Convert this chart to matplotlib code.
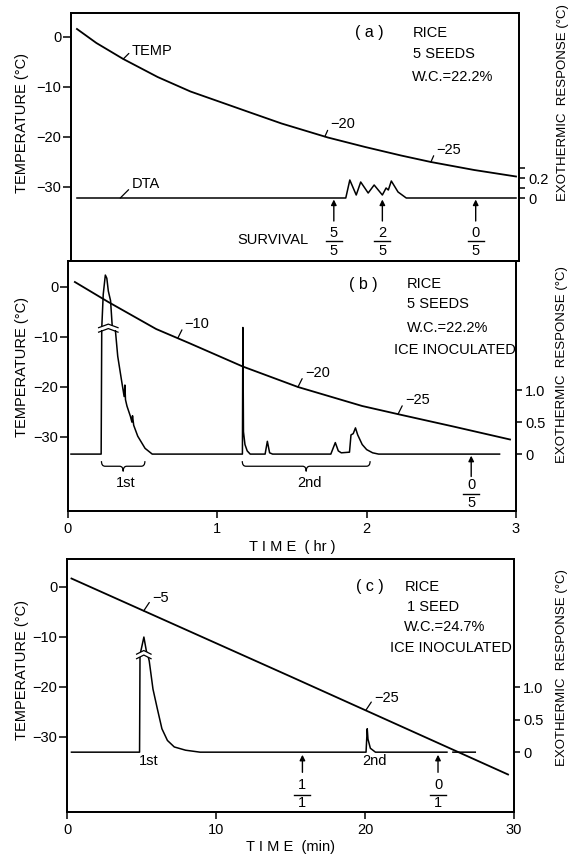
import numpy as np
import matplotlib
matplotlib.use('Agg')
import matplotlib.pyplot as plt
from matplotlib.path import Path
from matplotlib.patches import PathPatch

plt.rcParams['font.family'] = ['Liberation Sans', 'DejaVu Sans']
plt.rcParams['font.size'] = 10.5
plt.rcParams['axes.linewidth'] = 1.3

# ---- (a) rice, 5 seeds, W.C. 22.2 %  (time in hr) ----
a_time = [0.04, 0.17, 0.35, 0.58, 0.80, 1.00, 1.19, 1.41, 1.72, 1.97, 2.21, 2.41, 2.70, 2.98]
a_temp = [1.6, -1.2, -4.4, -8.0, -10.9, -13.0, -15.0, -17.3, -20.1, -22.0, -23.7, -25.0, -26.6, -27.9]
a_dta_time = [0.04, 1.84, 1.867, 1.91, 1.94, 1.99, 2.03, 2.085, 2.11, 2.125, 2.145, 2.19, 2.245, 2.98]
a_dta = [0, 0, 0.18, 0.03, 0.16, 0.05, 0.13, 0.03, 0.10, 0.08, 0.17, 0.06, 0, 0]
a_surv_time = [1.76, 2.085, 2.71]
a_surv_alive = [5, 2, 0]
a_surv_total = [5, 5, 5]
a_mark_temp = [-20, -25]
a_mark_time = [1.70, 2.41]

# ---- (b) rice, 5 seeds, ice inoculated (time in hr) ----
b_time = [0.046, 0.27, 0.59, 0.81, 1.17, 1.54, 1.97, 2.22, 2.58, 2.96]
b_temp = [1.0, -3.0, -8.4, -11.2, -15.9, -20.0, -23.8, -25.5, -27.9, -30.5]
b_dta_time = [0.02, 0.222, 0.226, 0.236, 0.25, 0.26, 0.27, 0.285, 0.297, 0.316, 0.333,
              0.358, 0.376, 0.381, 0.385, 0.395, 0.418, 0.428, 0.432, 0.44, 0.467, 0.516,
              0.564, 1.168, 1.171, 1.175, 1.185, 1.2, 1.22, 1.32, 1.335, 1.35, 1.37, 1.76,
              1.79, 1.81, 1.83, 1.885, 1.895, 1.91, 1.925, 1.94, 1.97, 2.0, 2.04, 2.08, 2.89]
b_dta = [0, 0, 1.97, 2.5, 2.8, 2.75, 2.55, 2.4, 1.97, 1.97, 1.53,
         1.16, 0.9, 1.08, 0.85, 0.75, 0.59, 0.5, 0.6, 0.45, 0.28, 0.09,
         0, 0, 1.98, 0.35, 0.15, 0.05, 0, 0, 0.2, 0.02, 0, 0,
         0.18, 0.05, 0.02, 0.03, 0.3, 0.32, 0.41, 0.3, 0.15, 0.07, 0.02, 0, 0]
b_break = 1.97
b_break_span = [0.205, 0.335]
b_surv_time = [2.70]
b_surv_alive = [0]
b_surv_total = [5]
b_mark_temp = [-10, -20, -25]
b_mark_time = [0.735, 1.54, 2.21]
b_freeze = ['1st', '2nd']
b_freeze_start = [0.224, 1.167]
b_freeze_end = [0.515, 2.023]

# ---- (c) rice, 1 seed, ice inoculated (time in min) ----
c_time = [0.3, 15.0, 29.6]
c_temp = [1.7, -17.9, -37.5]
c_dta_time = [0.3, 4.87, 4.9, 5.0, 5.16, 5.33, 5.42, 5.52, 5.77, 6.06, 6.37, 6.74, 7.2,
              7.96, 8.93, 20.07, 20.15, 20.2, 20.36, 20.7, 25.5, 25.7, 25.9, 27.4]
c_dta = [0, 0, 1.5, 1.6, 1.77, 1.55, 1.5, 1.4, 0.97, 0.67, 0.36, 0.18, 0.08,
         0.03, 0, 0, 0.36, 0.2, 0.06, 0, 0, np.nan, 0, 0]
c_break = 1.5
c_break_span = [4.67, 5.64]
c_surv_time = [15.8, 24.9]
c_surv_alive = [1, 0]
c_surv_total = [1, 1]
c_mark_temp = [-5, -25]
c_mark_time = [5.15, 20.05]
c_freeze = ['1st', '2nd']
c_freeze_time = [5.5, 20.65]


def temp_mark(ax, t, T, label, dx=4, dy=9):
    ax.annotate(label, xy=(t, T), xytext=(dx, dy), textcoords='offset points',
                ha='left', va='center',
                arrowprops=dict(arrowstyle='-', lw=0.9, color='k',
                                shrinkA=0, shrinkB=0, relpos=(0, 0.5)))


def survival(ax, t, alive, total, ys):
    tail, head, yn, yl, yd = ys
    ax.annotate('', xy=(t, head), xytext=(t, tail),
                arrowprops=dict(arrowstyle='-|>', lw=1.0, color='k',
                                mutation_scale=8, shrinkA=0, shrinkB=0))
    w = 0.018 * (ax.get_xlim()[1] - ax.get_xlim()[0])
    ax.text(t, yn, str(alive), ha='center', va='center')
    ax.plot([t - w, t + w], [yl, yl], color='k', lw=1.0)
    ax.text(t, yd, str(total), ha='center', va='center')


def brace(ax, t0, t1, ytop, ytip):
    tc = (t0 + t1) / 2
    ym = (ytop + ytip) / 2
    d = 0.008 * (ax.get_xlim()[1] - ax.get_xlim()[0])
    verts = [(t0, ytop), (t0, ym), (t0 + d, ym), (tc - d, ym), (tc, ym), (tc, ytip),
             (tc, ym), (tc + d, ym), (t1 - d, ym), (t1, ym), (t1, ytop)]
    codes = [Path.MOVETO, Path.CURVE3, Path.CURVE3, Path.LINETO, Path.CURVE3, Path.CURVE3,
             Path.CURVE3, Path.CURVE3, Path.LINETO, Path.CURVE3, Path.CURVE3]
    ax.add_patch(PathPatch(Path(verts, codes), fill=False, lw=0.9, ec='k'))


def axis_break(ax, span, level, h):
    t0, t1 = span
    tc = (t0 + t1) / 2
    ax.fill_between([t0, t1], level - h, level + h, color='white', zorder=3, lw=0)
    for off in (-h, h):
        ax.plot([t0, tc, t1], [level + off - h * 0.8, level + off + h * 0.8, level + off - h * 0.8],
                color='k', lw=0.9, zorder=4)


def style(ax, ax2, rticks, rlabels):
    ax.set_yticks([0, -10, -20, -30])
    ax.tick_params(axis='y', direction='out', length=5.5, width=1.1, pad=1.5)
    ax.tick_params(axis='x', direction='out', length=5, width=1.1, pad=3)
    ax2.set_yticks(rticks)
    ax2.set_yticklabels(rlabels)
    ax2.tick_params(axis='y', direction='out', length=4, width=1.1, pad=2.5)
    ax.set_ylabel('TEMPERATURE (°C)', fontsize=10.5)
    ax2.set_ylabel('EXOTHERMIC  RESPONSE (°C)', fontsize=9.5)


W, H = 569, 858
fig = plt.figure(figsize=(W / 100, H / 100), dpi=100)

ax_a = fig.add_axes([71 / W, 1 - 261 / H, 448 / W, 248 / H])
ax_b = fig.add_axes([68 / W, 1 - 511 / H, 448 / W, 250 / H])
ax_c = fig.add_axes([67 / W, 1 - 812 / H, 447 / W, 253 / H])

# ---------------- panel (a) ----------------
ax_a.set_xlim(0, 3)
ax_a.set_ylim(-44.8, 4.8)
ax_a2 = ax_a.twinx()
ax_a2.set_ylim(-0.63, 1.85)
ax_a.plot(a_time, a_temp, color='k', lw=1.3)
ax_a2.plot(a_dta_time, a_dta, color='k', lw=1.1)
ax_a.set_xticks([1, 2])
ax_a.set_xticklabels([])
style(ax_a, ax_a2, [0, 0.1, 0.2, 0.3], ['0', '', '0.2', ''])
ax_a.yaxis.set_label_coords(-0.094, 0.556)
ax_a2.yaxis.set_label_coords(1.084, 0.637)

temp_mark(ax_a, 0.35, np.interp(0.35, a_time, a_temp), 'TEMP', dx=6, dy=6)
ax_a2.annotate('DTA', xy=(0.33, 0), xytext=(8, 10), textcoords='offset points',
               ha='left', va='center',
               arrowprops=dict(arrowstyle='-', lw=0.9, color='k', shrinkA=0, shrinkB=0,
                               relpos=(0, 0.3)))
for T, t in zip(a_mark_temp, a_mark_time):
    temp_mark(ax_a, t, np.interp(t, a_time, a_temp), '−%d' % abs(T), dx=4, dy=9)
for t, n, d in zip(a_surv_time, a_surv_alive, a_surv_total):
    survival(ax_a2, t, n, d, (-0.23, -0.015, -0.35, -0.43, -0.53))
ax_a2.text(1.35, -0.42, 'SURVIVAL', ha='center', va='center')

ax_a.text(2.0, 1.0, '( a )', ha='center', va='center', fontsize=11.5)
ax_a.text(2.29, 0.8, 'RICE', ha='left', va='center')
ax_a.text(2.29, -3.4, '5 SEEDS', ha='left', va='center')
ax_a.text(2.28, -8.0, 'W.C.=22.2%', ha='left', va='center')

# ---------------- panel (b) ----------------
ax_b.set_xlim(0, 3)
ax_b.set_ylim(-44.8, 5.2)
ax_b2 = ax_b.twinx()
ax_b2.set_ylim(-0.89, 3.02)
ax_b.plot(b_time, b_temp, color='k', lw=1.3)
ax_b2.plot(b_dta_time, b_dta, color='k', lw=1.1)
axis_break(ax_b2, b_break_span, b_break, 0.035)
ax_b.set_xticks([0, 1, 2, 3])
ax_b.set_xlabel('T I M E  ( hr )')
ax_b.xaxis.set_label_coords(0.5, -0.115)
style(ax_b, ax_b2, [0, 0.5, 1.0], ['0', '0.5', '1.0'])
ax_b.yaxis.set_label_coords(-0.087, 0.576)
ax_b2.yaxis.set_label_coords(1.089, 0.584)

for T, t in zip(b_mark_temp, b_mark_time):
    temp_mark(ax_b, t, np.interp(t, b_time, b_temp), '−%d' % abs(T), dx=5, dy=10)
for name, t0, t1 in zip(b_freeze, b_freeze_start, b_freeze_end):
    brace(ax_b2, t0, t1, -0.11, -0.27)
    ax_b2.text((t0 + t1) / 2 + 0.02, -0.45, name, ha='center', va='center')
for t, n, d in zip(b_surv_time, b_surv_alive, b_surv_total):
    survival(ax_b2, t, n, d, (-0.35, -0.025, -0.49, -0.62, -0.77))

ax_b.text(1.975, 0.5, '( b )', ha='center', va='center', fontsize=11.5)
ax_b.text(2.27, 0.5, 'RICE', ha='left', va='center')
ax_b.text(2.27, -3.5, '5 SEEDS', ha='left', va='center')
ax_b.text(2.27, -8.2, 'W.C.=22.2%', ha='left', va='center')
ax_b.text(2.18, -12.6, 'ICE INOCULATED', ha='left', va='center')

# ---------------- panel (c) ----------------
ax_c.set_xlim(0, 30)
ax_c.set_ylim(-45, 5.6)
ax_c2 = ax_c.twinx()
ax_c2.set_ylim(-0.92, 2.97)
ax_c.plot(c_time, c_temp, color='k', lw=1.3)
ax_c2.plot(c_dta_time, c_dta, color='k', lw=1.1)
axis_break(ax_c2, c_break_span, c_break, 0.035)
ax_c.set_xticks([0, 10, 20, 30])
ax_c.set_xlabel('T I M E  (min)')
ax_c.xaxis.set_label_coords(0.5, -0.11)
style(ax_c, ax_c2, [0, 0.5, 1.0], ['0', '0.5', '1.0'])
ax_c.yaxis.set_label_coords(-0.085, 0.561)
ax_c2.yaxis.set_label_coords(1.094, 0.569)

for T, t in zip(c_mark_temp, c_mark_time):
    temp_mark(ax_c, t, np.interp(t, c_time, c_temp), '−%d' % abs(T), dx=6, dy=9)
for name, t in zip(c_freeze, c_freeze_time):
    ax_c2.text(t, -0.13, name, ha='center', va='center')
for t, n, d in zip(c_surv_time, c_surv_alive, c_surv_total):
    survival(ax_c2, t, n, d, (-0.31, -0.04, -0.51, -0.66, -0.78))

ax_c.text(20.3, 0.0, '( c )', ha='center', va='center', fontsize=11.5)
ax_c.text(22.7, 0.0, 'RICE', ha='left', va='center')
ax_c.text(22.85, -4.0, '1 SEED', ha='left', va='center')
ax_c.text(22.6, -8.0, 'W.C.=24.7%', ha='left', va='center')
ax_c.text(21.7, -12.3, 'ICE INOCULATED', ha='left', va='center')

fig.savefig('out.png', dpi=100)
